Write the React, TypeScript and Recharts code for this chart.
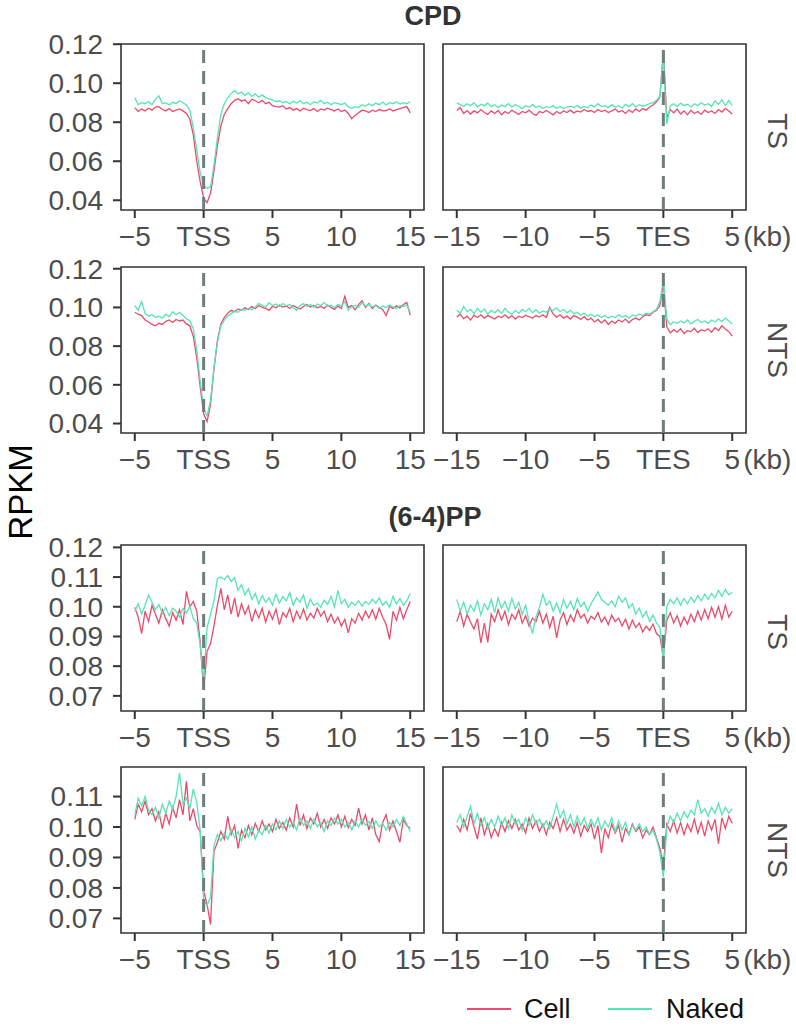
import React from 'react';
import { LineChart, Line, XAxis, YAxis, ReferenceLine, ReferenceArea } from 'recharts';

// ---------- categories (kb from anchor) ----------
const xTss = [
  -5, -4.75, -4.5, -4.25, -4, -3.75, -3.5, -3.25, -3, -2.75, -2.5, -2.25, -2, -1.75, -1.5, -1.25,
  -1, -0.75, -0.5, -0.25, 0, 0.25, 0.5, 0.75, 1, 1.25, 1.5, 1.75, 2, 2.25, 2.5, 2.75,
  3, 3.25, 3.5, 3.75, 4, 4.25, 4.5, 4.75, 5, 5.25, 5.5, 5.75, 6, 6.25, 6.5, 6.75,
  7, 7.25, 7.5, 7.75, 8, 8.25, 8.5, 8.75, 9, 9.25, 9.5, 9.75, 10, 10.25, 10.5, 10.75,
  11, 11.25, 11.5, 11.75, 12, 12.25, 12.5, 12.75, 13, 13.25, 13.5, 13.75, 14, 14.25, 14.5, 14.75, 15,
];
const xTes = [
  -15, -14.75, -14.5, -14.25, -14, -13.75, -13.5, -13.25, -13, -12.75, -12.5, -12.25, -12, -11.75, -11.5, -11.25,
  -11, -10.75, -10.5, -10.25, -10, -9.75, -9.5, -9.25, -9, -8.75, -8.5, -8.25, -8, -7.75, -7.5, -7.25,
  -7, -6.75, -6.5, -6.25, -6, -5.75, -5.5, -5.25, -5, -4.75, -4.5, -4.25, -4, -3.75, -3.5, -3.25,
  -3, -2.75, -2.5, -2.25, -2, -1.75, -1.5, -1.25, -1, -0.75, -0.5, -0.25, 0, 0.25, 0.5, 0.75,
  1, 1.25, 1.5, 1.75, 2, 2.25, 2.5, 2.75, 3, 3.25, 3.5, 3.75, 4, 4.25, 4.5, 4.75, 5,
];

const tssTicks = [-5, 0, 5, 10, 15];
const tesTicks = [-15, -10, -5, 0, 5];
const cpdYTicks = [0.04, 0.06, 0.08, 0.1, 0.12];
const pp64TsYTicks = [0.07, 0.08, 0.09, 0.1, 0.11, 0.12];
const pp64NtsYTicks = [0.07, 0.08, 0.09, 0.1, 0.11];

// ---------- CPD, TS ----------
const cpdTsTssCell = [
  0.0875, 0.0855, 0.0868, 0.0858, 0.0872, 0.0862, 0.0878, 0.0880,
  0.0865, 0.0858, 0.0870, 0.0855, 0.0862, 0.0868, 0.0858, 0.0845,
  0.0815, 0.0735, 0.0600, 0.0495, 0.0410, 0.0388, 0.0435, 0.0550,
  0.0680, 0.0780, 0.0840, 0.0870, 0.0895, 0.0912, 0.0920, 0.0908,
  0.0915, 0.0895, 0.0918, 0.0910, 0.0900, 0.0912, 0.0895, 0.0902,
  0.0885, 0.0880, 0.0878, 0.0885, 0.0868, 0.0875, 0.0862, 0.0870,
  0.0858, 0.0872, 0.0865, 0.0860, 0.0870, 0.0855, 0.0868, 0.0862,
  0.0872, 0.0865, 0.0858, 0.0868, 0.0855, 0.0862, 0.0845, 0.0818,
  0.0835, 0.0848, 0.0862, 0.0858, 0.0850, 0.0862, 0.0855, 0.0865,
  0.0858, 0.0860, 0.0868, 0.0858, 0.0865, 0.0870, 0.0875, 0.0880,
  0.0848,
];
const cpdTsTssNaked = [
  0.0925, 0.0890, 0.0900, 0.0895, 0.0905, 0.0890, 0.0918, 0.0935,
  0.0895, 0.0900, 0.0888, 0.0902, 0.0895, 0.0910, 0.0900, 0.0888,
  0.0860, 0.0770, 0.0660, 0.0540, 0.0475, 0.0462, 0.0468, 0.0580,
  0.0720, 0.0840, 0.0895, 0.0925, 0.0948, 0.0962, 0.0945, 0.0955,
  0.0938, 0.0950, 0.0932, 0.0945, 0.0928, 0.0940, 0.0925, 0.0920,
  0.0915, 0.0905, 0.0910, 0.0900, 0.0905, 0.0895, 0.0908, 0.0898,
  0.0910, 0.0895, 0.0903, 0.0890, 0.0905, 0.0898, 0.0912, 0.0895,
  0.0903, 0.0890, 0.0900, 0.0895, 0.0890, 0.0898, 0.0880, 0.0870,
  0.0880, 0.0875, 0.0890, 0.0882, 0.0895, 0.0885, 0.0898, 0.0890,
  0.0903, 0.0888, 0.0900, 0.0895, 0.0905, 0.0893, 0.0900, 0.0895,
  0.0905,
];
const cpdTsTesCell = [
  0.0860, 0.0875, 0.0845, 0.0860, 0.0842, 0.0858, 0.0848, 0.0865,
  0.0850, 0.0840, 0.0858, 0.0845, 0.0860, 0.0838, 0.0855, 0.0845,
  0.0862, 0.0850, 0.0840, 0.0855, 0.0848, 0.0862, 0.0845, 0.0835,
  0.0855, 0.0848, 0.0860, 0.0850, 0.0838, 0.0855, 0.0845, 0.0858,
  0.0850, 0.0862, 0.0848, 0.0858, 0.0852, 0.0865, 0.0855, 0.0860,
  0.0850, 0.0865, 0.0855, 0.0862, 0.0850, 0.0858, 0.0868, 0.0852,
  0.0860, 0.0845, 0.0862, 0.0850, 0.0868, 0.0855, 0.0870, 0.0862,
  0.0878, 0.0888, 0.0905, 0.0930, 0.1165, 0.0820, 0.0865, 0.0848,
  0.0868, 0.0842, 0.0858, 0.0838, 0.0862, 0.0845, 0.0855, 0.0840,
  0.0862, 0.0850, 0.0858, 0.0845, 0.0865, 0.0852, 0.0870, 0.0858,
  0.0842,
];
const cpdTsTesNaked = [
  0.0900, 0.0890, 0.0882, 0.0895, 0.0885, 0.0900, 0.0878, 0.0892,
  0.0885, 0.0898, 0.0880, 0.0890, 0.0875, 0.0888, 0.0880, 0.0895,
  0.0878, 0.0890, 0.0882, 0.0870, 0.0885, 0.0878, 0.0890, 0.0875,
  0.0883, 0.0870, 0.0880, 0.0875, 0.0885, 0.0872, 0.0880, 0.0870,
  0.0878, 0.0882, 0.0875, 0.0885, 0.0872, 0.0880, 0.0875, 0.0888,
  0.0878, 0.0895, 0.0880, 0.0885, 0.0875, 0.0890, 0.0878, 0.0885,
  0.0872, 0.0892, 0.0880, 0.0895, 0.0878, 0.0890, 0.0882, 0.0888,
  0.0895, 0.0900, 0.0912, 0.0935, 0.1150, 0.0790, 0.0885, 0.0895,
  0.0880, 0.0898, 0.0885, 0.0892, 0.0878, 0.0895, 0.0885, 0.0900,
  0.0888, 0.0895, 0.0880, 0.0910, 0.0892, 0.0915, 0.0885, 0.0912,
  0.0885,
];

// ---------- CPD, NTS ----------
const cpdNtsTssCell = [
  0.0975, 0.0965, 0.0958, 0.0935, 0.0925, 0.0912, 0.0905, 0.0918,
  0.0912, 0.0928, 0.0935, 0.0922, 0.0938, 0.0930, 0.0935, 0.0915,
  0.0905, 0.0850, 0.0740, 0.0590, 0.0450, 0.0410, 0.0500, 0.0680,
  0.0830, 0.0915, 0.0948, 0.0970, 0.0985, 0.0978, 0.0992, 0.0985,
  0.0998, 0.0990, 0.1005, 0.0995, 0.1010, 0.1000, 0.0995, 0.0985,
  0.1005, 0.0998, 0.1012, 0.1002, 0.1008, 0.0995, 0.1010, 0.1000,
  0.0992, 0.1005, 0.1015, 0.1002, 0.1010, 0.0998, 0.1005, 0.0995,
  0.1012, 0.1000, 0.0990, 0.1008, 0.0995, 0.1058, 0.1000, 0.1010,
  0.0988, 0.1015, 0.1035, 0.1000, 0.1020, 0.0995, 0.1012, 0.1000,
  0.0990, 0.0958, 0.1005, 0.0995, 0.1008, 0.0998, 0.1015, 0.1025,
  0.0960,
];
const cpdNtsTssNaked = [
  0.1010, 0.0985, 0.1030, 0.0968, 0.0955, 0.0962, 0.0948, 0.0955,
  0.0945, 0.0965, 0.0952, 0.0978, 0.0962, 0.0975, 0.0958, 0.0942,
  0.0930, 0.0890, 0.0780, 0.0620, 0.0480, 0.0438, 0.0520, 0.0690,
  0.0820, 0.0905, 0.0935, 0.0955, 0.0968, 0.0980, 0.0975, 0.0990,
  0.0985, 0.0995, 0.0988, 0.1002, 0.1020, 0.1012, 0.1000, 0.1025,
  0.1010, 0.1018, 0.1005, 0.1020, 0.1008, 0.1015, 0.0998, 0.0985,
  0.1010, 0.1020, 0.1005, 0.1015, 0.1000, 0.1018, 0.1010, 0.1025,
  0.1005, 0.1012, 0.1000, 0.1015, 0.1008, 0.1030, 0.0985, 0.1005,
  0.1012, 0.1000, 0.1025, 0.1008, 0.1015, 0.1002, 0.1010, 0.0995,
  0.1008, 0.1000, 0.1012, 0.1003, 0.0995, 0.1010, 0.1005, 0.1012,
  0.0975,
];
const cpdNtsTesCell = [
  0.0950, 0.0965, 0.0942, 0.0955, 0.0935, 0.0960, 0.0948, 0.0962,
  0.0945, 0.0958, 0.0950, 0.0940, 0.0955, 0.0948, 0.0962, 0.0945,
  0.0958, 0.0940, 0.0955, 0.0948, 0.0960, 0.0952, 0.0945, 0.0958,
  0.0950, 0.0962, 0.0948, 0.1000, 0.0965, 0.0950, 0.0962, 0.0945,
  0.0955, 0.0940, 0.0958, 0.0950, 0.0938, 0.0952, 0.0935, 0.0945,
  0.0925, 0.0938, 0.0920, 0.0935, 0.0912, 0.0930, 0.0918, 0.0935,
  0.0925, 0.0940, 0.0920, 0.0938, 0.0945, 0.0935, 0.0952, 0.0962,
  0.0958, 0.0975, 0.0985, 0.1010, 0.1125, 0.0900, 0.0868, 0.0885,
  0.0872, 0.0890, 0.0865, 0.0880, 0.0875, 0.0892, 0.0870, 0.0885,
  0.0878, 0.0890, 0.0872, 0.0895, 0.0880, 0.0905, 0.0888, 0.0875,
  0.0852,
];
const cpdNtsTesNaked = [
  0.0985, 0.0970, 0.1005, 0.0978, 0.0990, 0.0968, 0.0995, 0.0975,
  0.0992, 0.0965, 0.0985, 0.0972, 0.0988, 0.0970, 0.0995, 0.0975,
  0.0965, 0.0985, 0.0970, 0.0990, 0.0978, 0.0995, 0.0972, 0.0988,
  0.0970, 0.0982, 0.0975, 0.0992, 0.0985, 0.0998, 0.0978, 0.0990,
  0.0972, 0.0985, 0.0968, 0.0975, 0.0960, 0.0970, 0.0955, 0.0965,
  0.0952, 0.0962, 0.0948, 0.0958, 0.0945, 0.0955, 0.0948, 0.0962,
  0.0950, 0.0958, 0.0945, 0.0960, 0.0955, 0.0965, 0.0958, 0.0970,
  0.0965, 0.0978, 0.0990, 0.1030, 0.1140, 0.0940, 0.0912, 0.0925,
  0.0918, 0.0930, 0.0920, 0.0935, 0.0915, 0.0928, 0.0938, 0.0922,
  0.0930, 0.0918, 0.0935, 0.0925, 0.0940, 0.0928, 0.0945, 0.0930,
  0.0915,
];

// ---------- (6-4)PP, TS ----------
const ppTsTssCell = [
  0.0998, 0.0965, 0.0910, 0.0985, 0.0950, 0.1005, 0.0975, 0.0945,
  0.0990, 0.0960, 0.0935, 0.0980, 0.0955, 0.0990, 0.0940, 0.1052,
  0.1000, 0.1018, 0.0985, 0.0880, 0.0722, 0.0850, 0.0875, 0.0935,
  0.1005, 0.1062, 0.0990, 0.1040, 0.0975, 0.1030, 0.0965, 0.1010,
  0.0975, 0.1002, 0.0950, 0.0990, 0.0962, 0.0995, 0.0948, 0.0985,
  0.0958, 0.0992, 0.0940, 0.0980, 0.0965, 0.0995, 0.0950, 0.0985,
  0.0960, 0.0992, 0.0955, 0.0978, 0.0962, 0.0995, 0.0968, 0.0985,
  0.0950, 0.0975, 0.0945, 0.0965, 0.0935, 0.0958, 0.0912, 0.0960,
  0.0945, 0.0978, 0.0955, 0.0985, 0.0962, 0.0990, 0.0958, 0.0995,
  0.0965, 0.0940, 0.0890, 0.0985, 0.0955, 0.0998, 0.0960, 0.0990,
  0.1018,
];
const ppTsTssNaked = [
  0.0985, 0.1010, 0.0975, 0.1005, 0.1040, 0.1015, 0.0990, 0.1008,
  0.0978, 0.0998, 0.0970, 0.0995, 0.0985, 0.0965, 0.0995, 0.0980,
  0.1002, 0.0960, 0.0945, 0.0870, 0.0752, 0.0930, 0.0975, 0.1020,
  0.1095, 0.1100, 0.1092, 0.1105, 0.1085, 0.1098, 0.1055, 0.1075,
  0.1040, 0.1060, 0.1025, 0.1045, 0.1010, 0.1038, 0.1015, 0.1030,
  0.1005, 0.1042, 0.1012, 0.1035, 0.1020, 0.1048, 0.1005, 0.1030,
  0.1015, 0.1040, 0.0995, 0.1025, 0.1005, 0.1012, 0.0998, 0.1022,
  0.1008, 0.1035, 0.1000, 0.1055, 0.1010, 0.1025, 0.0998, 0.1015,
  0.1005, 0.1020, 0.1002, 0.1018, 0.1008, 0.1025, 0.1012, 0.1030,
  0.1005, 0.1018, 0.0998, 0.1035, 0.1010, 0.1028, 0.1005, 0.1020,
  0.1045,
];
const ppTsTesCell = [
  0.0950, 0.0985, 0.0935, 0.0975, 0.0948, 0.0925, 0.0960, 0.0878,
  0.0945, 0.0880, 0.0975, 0.0950, 0.0990, 0.0955, 0.0985, 0.0940,
  0.0975, 0.0958, 0.0990, 0.0945, 0.0970, 0.0935, 0.0962, 0.0950,
  0.0985, 0.0945, 0.0975, 0.0930, 0.0968, 0.0895, 0.0955, 0.0980,
  0.0940, 0.0972, 0.0950, 0.0990, 0.0962, 0.0975, 0.0945, 0.0968,
  0.0958, 0.0980, 0.0948, 0.0965, 0.0940, 0.0972, 0.0950, 0.0962,
  0.0935, 0.0958, 0.0925, 0.0955, 0.0930, 0.0945, 0.0915, 0.0935,
  0.0920, 0.0942, 0.0910, 0.0900, 0.0828, 0.0955, 0.0980, 0.0945,
  0.0970, 0.0935, 0.0965, 0.0942, 0.0975, 0.0950, 0.0985, 0.0955,
  0.0990, 0.0960, 0.0998, 0.0965, 0.1000, 0.0958, 0.1005, 0.0965,
  0.0985,
];
const ppTsTesNaked = [
  0.1025, 0.0985, 0.1015, 0.0975, 0.1005, 0.0985, 0.1020, 0.0972,
  0.1010, 0.0990, 0.1025, 0.0980, 0.1030, 0.0995, 0.1018, 0.0985,
  0.1028, 0.0992, 0.1015, 0.0975, 0.1005, 0.0950, 0.0910, 0.0965,
  0.0998, 0.1042, 0.1005, 0.1020, 0.0985, 0.1012, 0.0980, 0.1025,
  0.0995, 0.1018, 0.0990, 0.1028, 0.1000, 0.1015, 0.0985, 0.1010,
  0.1030, 0.1050, 0.1025, 0.1015, 0.1005, 0.1020, 0.1000, 0.1035,
  0.1015, 0.1030, 0.0995, 0.1010, 0.0975, 0.0995, 0.0965, 0.0985,
  0.0950, 0.0972, 0.0945, 0.0930, 0.0818, 0.1000, 0.1025, 0.1010,
  0.1030, 0.1005, 0.1028, 0.1010, 0.1032, 0.1015, 0.1038, 0.1020,
  0.1042, 0.1025, 0.1045, 0.1030, 0.1055, 0.1035, 0.1058, 0.1040,
  0.1050,
];

// ---------- (6-4)PP, NTS ----------
const ppNtsTssCell = [
  0.1025, 0.1075, 0.1050, 0.1085, 0.1040, 0.1060, 0.1020, 0.1050,
  0.0995, 0.1045, 0.1010, 0.1065, 0.1030, 0.1090, 0.1040, 0.1150,
  0.1020, 0.1060, 0.1005, 0.0985, 0.0790, 0.0745, 0.0680, 0.0920,
  0.0950, 0.0985, 0.0960, 0.1035, 0.0975, 0.1005, 0.0930, 0.0990,
  0.0965, 0.1005, 0.0975, 0.1012, 0.0985, 0.1020, 0.0990, 0.1010,
  0.0985, 0.1025, 0.0995, 0.1015, 0.0990, 0.1030, 0.1000, 0.1075,
  0.1005, 0.1040, 0.0995, 0.1030, 0.1010, 0.1045, 0.1000, 0.1025,
  0.0995, 0.1030, 0.1010, 0.1040, 0.1000, 0.1035, 0.0998, 0.1025,
  0.1005, 0.1062, 0.1010, 0.1040, 0.0990, 0.1030, 0.0975, 0.0952,
  0.1015, 0.1040, 0.0990, 0.1020, 0.0985, 0.0950, 0.1025, 0.1005,
  0.0995,
];
const ppNtsTssNaked = [
  0.1040, 0.1095, 0.1070, 0.1100, 0.1055, 0.1040, 0.1065, 0.1030,
  0.1075, 0.1045, 0.1085, 0.1060, 0.1100, 0.1178, 0.1075, 0.1095,
  0.1060, 0.1125, 0.1080, 0.0990, 0.0760, 0.0742, 0.0770, 0.0940,
  0.0975, 0.0955, 0.0980, 0.0960, 0.0990, 0.0965, 0.0985, 0.0955,
  0.0995, 0.0968, 0.1000, 0.0960, 0.0990, 0.0975, 0.1005, 0.0980,
  0.1010, 0.0990, 0.1020, 0.0995, 0.1025, 0.1000, 0.1015, 0.0990,
  0.1030, 0.1005, 0.1020, 0.0995, 0.1025, 0.1000, 0.1015, 0.0985,
  0.1020, 0.1005, 0.1030, 0.1010, 0.1025, 0.1000, 0.1015, 0.0990,
  0.1020, 0.1000, 0.1025, 0.1005, 0.1018, 0.0995, 0.1020, 0.1000,
  0.1012, 0.0990, 0.1015, 0.1000, 0.1025, 0.1005, 0.1035, 0.1010,
  0.0985,
];
const ppNtsTesCell = [
  0.1005, 0.0985, 0.1025, 0.0990, 0.1045, 0.1000, 0.0960, 0.1030,
  0.0975, 0.1010, 0.0965, 0.0995, 0.0970, 0.1015, 0.0985, 0.1020,
  0.0995, 0.1025, 0.0990, 0.1010, 0.0980, 0.1030, 0.0995, 0.1020,
  0.0985, 0.1010, 0.0975, 0.1015, 0.0995, 0.1030, 0.0985, 0.1025,
  0.0990, 0.1010, 0.0980, 0.1015, 0.0970, 0.1005, 0.0985, 0.1010,
  0.0960, 0.1005, 0.0915, 0.0995, 0.0965, 0.1010, 0.0980, 0.1005,
  0.0950, 0.0995, 0.0975, 0.1010, 0.0985, 0.1000, 0.0965, 0.0990,
  0.0975, 0.1000, 0.0965, 0.0930, 0.0875, 0.1010, 0.0985, 0.1020,
  0.0980, 0.1015, 0.0975, 0.1010, 0.0985, 0.1025, 0.0980, 0.1015,
  0.0970, 0.1020, 0.0990, 0.1025, 0.0945, 0.1030, 0.0995, 0.1035,
  0.1012,
];
const ppNtsTesNaked = [
  0.1015, 0.1040, 0.1000, 0.1035, 0.1068, 0.1010, 0.1045, 0.1005,
  0.1030, 0.0995, 0.1025, 0.1000, 0.1035, 0.1005, 0.1030, 0.0995,
  0.1040, 0.1010, 0.1025, 0.0990, 0.1030, 0.1005, 0.1040, 0.1010,
  0.1025, 0.1000, 0.1020, 0.0995, 0.1035, 0.1075, 0.1030, 0.1055,
  0.1010, 0.1040, 0.1000, 0.1035, 0.1005, 0.1030, 0.0995, 0.1025,
  0.1000, 0.1030, 0.0990, 0.1020, 0.1000, 0.1030, 0.0985, 0.1020,
  0.0990, 0.1015, 0.0975, 0.1005, 0.0990, 0.1010, 0.0985, 0.1000,
  0.0975, 0.0990, 0.0960, 0.0915, 0.0835, 0.1000, 0.1035, 0.1015,
  0.1045, 0.1020, 0.1050, 0.1030, 0.1055, 0.1040, 0.1090, 0.1045,
  0.1060, 0.1035, 0.1065, 0.1045, 0.1078, 0.1040, 0.1065, 0.1045,
  0.1060,
];

// ---------- styling ----------
const FONT = '"Liberation Sans", Arial, Helvetica, sans-serif';
const CELL = '#EC4A6A';
const NAKED = '#56E5B5';
const TEXT = '#4D4D4D';
const AXIS = '#333333';
const PLOT_H = 166;
const TOP_PAD = 22;
const TICK_FS = 28;

function XTick(props: any) {
  const { x, y, payload, anchorLabel, showKb } = props;
  const v = payload.value;
  const label = v === 0 ? anchorLabel : v < 0 ? '\u2212' + Math.abs(v) : String(v);
  return (
    <g>
      <text x={x} y={y + 14} textAnchor="middle" dominantBaseline="central" fontSize={TICK_FS} fill={TEXT} fontFamily={FONT}>
        {label}
      </text>
      {showKb && v === 5 ? (
        <text x={x + 11} y={y + 14} textAnchor="start" dominantBaseline="central" fontSize={TICK_FS} fill={TEXT} fontFamily={FONT}>
          (kb)
        </text>
      ) : null}
    </g>
  );
}

type PanelProps = {
  top: number;
  side: 'left' | 'right';
  xs: number[];
  cell: number[];
  naked: number[];
  yDomain: [number, number];
  yTicks: number[];
};

function Panel({ top, side, xs, cell, naked, yDomain, yTicks }: PanelProps) {
  const isLeft = side === 'left';
  const data = xs.map((x, i) => ({ x, cell: cell[i], naked: naked[i] }));
  const xDomain: [number, number] = isLeft ? [-6, 16] : [-16, 6];
  return (
    <div style={{ position: 'absolute', left: isLeft ? 0 : 433, top: top - TOP_PAD }}>
      <LineChart
        width={isLeft ? 430 : 363}
        height={TOP_PAD + PLOT_H + 45}
        data={data}
        margin={{ top: TOP_PAD, right: isLeft ? 6 : 50, bottom: 0, left: isLeft ? 0 : 10 }}
      >
        <XAxis
          dataKey="x"
          type="number"
          domain={xDomain}
          ticks={isLeft ? tssTicks : tesTicks}
          allowDataOverflow
          interval={0}
          height={45}
          axisLine={false}
          tickLine={{ stroke: AXIS, strokeWidth: 2 }}
          tickSize={8}
          tickMargin={4}
          tick={<XTick anchorLabel={isLeft ? 'TSS' : 'TES'} showKb={!isLeft} />}
        />
        <YAxis
          type="number"
          domain={yDomain}
          ticks={yTicks}
          allowDataOverflow
          interval={0}
          hide={!isLeft}
          width={121}
          axisLine={false}
          tickLine={{ stroke: AXIS, strokeWidth: 2 }}
          tickSize={8}
          tickMargin={10}
          tick={{ fontSize: TICK_FS, fill: TEXT, fontFamily: FONT }}
          tickFormatter={(v: number) => v.toFixed(2)}
        />
        <ReferenceArea
          x1={xDomain[0]}
          x2={xDomain[1]}
          y1={yDomain[0]}
          y2={yDomain[1]}
          fill="none"
          fillOpacity={0}
          stroke={AXIS}
          strokeWidth={1.6}
          ifOverflow="visible"
        />
        <Line type="linear" dataKey="cell" stroke={CELL} strokeWidth={1.3} dot={false} isAnimationActive={false} />
        <Line type="linear" dataKey="naked" stroke={NAKED} strokeWidth={1.3} dot={false} isAnimationActive={false} />
        <ReferenceLine x={0} stroke="#6E7E7A" strokeWidth={3} strokeDasharray="13 8" />
      </LineChart>
    </div>
  );
}

const ROW_TOPS = [44, 267, 545, 767];

export default function App() {
  const cpdDom1: [number, number] = [0.035, 0.1201];
  const cpdDom2: [number, number] = [0.0351, 0.1209];
  const ppDom1: [number, number] = [0.0649, 0.1208];
  const ppDom2: [number, number] = [0.0652, 0.1197];
  const mid = (t: number) => t + PLOT_H / 2;
  return (
    <div style={{ position: 'absolute', left: 0, top: 0, width: 796, height: 1026, background: '#fff', fontFamily: FONT }}>
      <Panel top={ROW_TOPS[0]} side="left" xs={xTss} cell={cpdTsTssCell} naked={cpdTsTssNaked} yDomain={cpdDom1} yTicks={cpdYTicks} />
      <Panel top={ROW_TOPS[0]} side="right" xs={xTes} cell={cpdTsTesCell} naked={cpdTsTesNaked} yDomain={cpdDom1} yTicks={cpdYTicks} />
      <Panel top={ROW_TOPS[1]} side="left" xs={xTss} cell={cpdNtsTssCell} naked={cpdNtsTssNaked} yDomain={cpdDom2} yTicks={cpdYTicks} />
      <Panel top={ROW_TOPS[1]} side="right" xs={xTes} cell={cpdNtsTesCell} naked={cpdNtsTesNaked} yDomain={cpdDom2} yTicks={cpdYTicks} />
      <Panel top={ROW_TOPS[2]} side="left" xs={xTss} cell={ppTsTssCell} naked={ppTsTssNaked} yDomain={ppDom1} yTicks={pp64TsYTicks} />
      <Panel top={ROW_TOPS[2]} side="right" xs={xTes} cell={ppTsTesCell} naked={ppTsTesNaked} yDomain={ppDom1} yTicks={pp64TsYTicks} />
      <Panel top={ROW_TOPS[3]} side="left" xs={xTss} cell={ppNtsTssCell} naked={ppNtsTssNaked} yDomain={ppDom2} yTicks={pp64NtsYTicks} />
      <Panel top={ROW_TOPS[3]} side="right" xs={xTes} cell={ppNtsTesCell} naked={ppNtsTesNaked} yDomain={ppDom2} yTicks={pp64NtsYTicks} />

      <svg width={796} height={1026} style={{ position: 'absolute', left: 0, top: 0, pointerEvents: 'none' }}>
        <text x={433} y={16} textAnchor="middle" dominantBaseline="central" fontSize={27} fontWeight="bold" fill="#333" fontFamily={FONT}>CPD</text>
        <text x={435} y={517} textAnchor="middle" dominantBaseline="central" fontSize={27} fontWeight="bold" fill="#333" fontFamily={FONT}>(6-4)PP</text>

        <text transform={`translate(777,${mid(ROW_TOPS[0]) + 4}) rotate(90)`} textAnchor="middle" dominantBaseline="central" fontSize={28} fill={TEXT} fontFamily={FONT}>TS</text>
        <text transform={`translate(777,${mid(ROW_TOPS[1])}) rotate(90)`} textAnchor="middle" dominantBaseline="central" fontSize={28} fill={TEXT} fontFamily={FONT}>NTS</text>
        <text transform={`translate(777,${mid(ROW_TOPS[2]) + 4}) rotate(90)`} textAnchor="middle" dominantBaseline="central" fontSize={28} fill={TEXT} fontFamily={FONT}>TS</text>
        <text transform={`translate(777,${mid(ROW_TOPS[3])}) rotate(90)`} textAnchor="middle" dominantBaseline="central" fontSize={28} fill={TEXT} fontFamily={FONT}>NTS</text>

        <text transform="translate(20,492) rotate(-90)" textAnchor="middle" dominantBaseline="central" fontSize={33} fill="#000" fontFamily={FONT}>RPKM</text>

        <line x1={467} x2={511} y1={1009} y2={1009} stroke={CELL} strokeWidth={2} />
        <text x={524} y={1009} dominantBaseline="central" fontSize={27} fill="#111" fontFamily={FONT}>Cell</text>
        <line x1={608} x2={652} y1={1009} y2={1009} stroke={NAKED} strokeWidth={2} />
        <text x={666} y={1009} dominantBaseline="central" fontSize={27} fill="#111" fontFamily={FONT}>Naked</text>
      </svg>
    </div>
  );
}
